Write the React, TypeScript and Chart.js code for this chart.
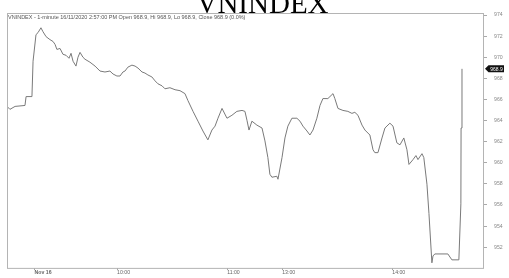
import React, { useEffect, useRef } from "react";
import { Chart, registerables } from "chart.js";

Chart.register(...registerables);

// Minutes since 9:00 (lunch break removed; 13:00 = 150)
const minutes = [
  0, 1.6, 4.4, 9.8, 10.4, 13.6, 14.2, 15.8, 16.9, 18.5, 19.6, 21.3, 23.4, 25.1, 26.2, 27.2, 28.9, 30.5, 32.2, 33.8,
  34.9, 36.0, 37.6, 38.7, 39.8, 41.4, 42.5, 45.2, 48.0, 50.7, 53.4, 56.1, 57.8, 59.9, 61.6, 63.2, 64.3, 65.9, 68.1, 69.8,
  71.4, 73.6, 75.2, 76.8, 79.0, 80.7, 82.3, 84.5, 86.1, 88.8, 91.6, 94.3, 97.0, 98.6, 101.4, 104.1, 106.8, 109.5, 111.7, 113.4,
  115.0, 117.2, 117.7, 119.9, 122.6, 125.3, 128.1, 129.7, 130.8, 131.9, 133.5, 136.2, 139.0, 140.6, 142.2, 143.3, 144.4, 147.1, 147.7, 149.9,
  151.5, 153.1, 155.3, 158.0, 159.7, 161.3, 163.5, 165.1, 166.8, 168.9, 170.6, 172.2, 174.9, 177.7, 178.7, 180.4, 183.1, 185.8, 188.0, 189.6,
  191.3, 193.5, 195.1, 197.8, 199.5, 200.5, 202.2, 204.4, 206.0, 208.7, 210.4, 212.5, 214.2, 216.3, 218.0, 219.1, 221.3, 222.9, 224.0, 226.2,
  227.2, 228.9, 230.0, 231.6, 232.2, 233.2, 240.3, 242.5, 246.3, 247.4, 247.5, 248.0,
];

const prices = [
  965.34, 965.06, 965.34, 965.43, 966.27, 966.27, 969.62, 972.14, 972.33, 972.79, 972.42, 971.95, 971.67, 971.49, 971.21, 970.74, 970.83, 970.28, 970.18, 969.9,
  970.37, 969.62, 969.16, 970.0, 970.46, 970.0, 969.81, 969.53, 969.16, 968.69, 968.6, 968.69, 968.41, 968.22, 968.22, 968.6, 968.69, 969.06, 969.25, 969.16,
  968.97, 968.6, 968.5, 968.32, 968.13, 967.76, 967.48, 967.29, 967.01, 967.11, 966.92, 966.83, 966.55, 965.9, 964.87, 963.94, 963.01, 962.17, 963.1, 963.47,
  964.22, 965.15, 965.15, 964.22, 964.5, 964.87, 964.96, 964.87, 964.03, 963.1, 963.94, 963.57, 963.29, 962.07, 960.49, 958.91, 958.63, 958.72, 958.44, 960.49,
  962.35, 963.47, 964.22, 964.22, 963.94, 963.47, 963.01, 962.63, 963.1, 964.22, 965.43, 966.08, 966.08, 966.55, 966.08, 965.15, 964.96, 964.87, 964.68, 964.78,
  964.5, 963.57, 963.1, 962.63, 961.23, 960.96, 960.96, 962.35, 963.29, 963.75, 963.47, 961.89, 961.7, 962.35, 961.23, 959.84, 960.3, 960.68, 960.3, 960.86,
  960.49, 957.97, 955.18, 950.52, 951.17, 951.36, 951.36, 950.8, 950.8, 956.11, 963.29, 968.9,
];

const yTickValues = [952, 954, 956, 958, 960, 962, 964, 966, 968, 970, 972, 974];
const xTickPositions = [15, 60, 120, 150, 210];
const xTickLabels = ["Nov 16", "10:00", "11:00", "13:00", "14:00"];

const titleText = "VNINDEX";
const headerText =
  "VNINDEX - 1-minute 16/11/2020 2:57:00 PM Open 968.9, Hi 968.9, Lo 968.9, Close 968.9 (0.0%)";
const lastValue = 968.9;
const lastValueLabel = "968.9";

const decoPlugin = {
  id: "deco",
  beforeDraw(chart: any) {
    const { ctx, width, height } = chart;
    ctx.save();
    ctx.fillStyle = "#ffffff";
    ctx.fillRect(0, 0, width, height);
    ctx.restore();
  },
  afterDraw(chart: any) {
    const { ctx, chartArea: a } = chart;
    ctx.save();
    // plot frame
    ctx.strokeStyle = "#b4b4b4";
    ctx.lineWidth = 1;
    ctx.strokeRect(a.left + 0.5, a.top + 0.5, a.right - a.left - 1, a.bottom - a.top);
    // header text
    ctx.fillStyle = "#555555";
    ctx.font = '5.5px "Liberation Sans", Arial, sans-serif';
    ctx.textAlign = "left";
    ctx.textBaseline = "top";
    ctx.fillText(headerText, a.left + 1, a.top + 2);
    // title
    ctx.fillStyle = "#000000";
    ctx.font = '29px "Liberation Serif", "Times New Roman", serif';
    ctx.textAlign = "center";
    ctx.textBaseline = "alphabetic";
    ctx.fillText(titleText, 262.5, a.top);
    // last value tag
    const y = chart.scales.y.getPixelForValue(lastValue);
    const x0 = a.right + 1;
    ctx.fillStyle = "#111111";
    ctx.beginPath();
    ctx.moveTo(x0, y);
    ctx.lineTo(x0 + 3.5, y - 3.5);
    ctx.lineTo(x0 + 19, y - 3.5);
    ctx.lineTo(x0 + 19, y + 3.5);
    ctx.lineTo(x0 + 3.5, y + 3.5);
    ctx.closePath();
    ctx.fill();
    ctx.fillStyle = "#ffffff";
    ctx.font = '5px "Liberation Sans", Arial, sans-serif';
    ctx.textAlign = "center";
    ctx.textBaseline = "middle";
    ctx.fillText(lastValueLabel, x0 + 11.5, y + 0.5);
    ctx.restore();
  },
};

export default function App() {
  const canvasRef = useRef<HTMLCanvasElement | null>(null);

  useEffect(() => {
    const canvas = canvasRef.current;
    if (!canvas) return;
    const data = minutes.map((m, i) => ({ x: m, y: prices[i] }));
    const chart = new Chart(canvas, {
      type: "line",
      data: {
        datasets: [
          {
            data,
            borderColor: "#7a7a7a",
            borderWidth: 1,
            pointRadius: 0,
            tension: 0,
            fill: false,
          },
        ],
      },
      options: {
        animation: false,
        responsive: false,
        devicePixelRatio: 1,
        layout: { padding: { left: 7, top: 13, right: 0, bottom: 0 } },
        plugins: {
          legend: { display: false },
          title: { display: false },
          tooltip: { enabled: false },
        },
        scales: {
          x: {
            type: "linear",
            min: 0,
            max: 260,
            border: { display: false },
            grid: { drawOnChartArea: false, drawTicks: true, tickLength: 2, color: "#999999" },
            afterBuildTicks: (scale: any) => {
              scale.ticks = xTickPositions.map((v) => ({ value: v }));
            },
            afterFit: (scale: any) => {
              scale.height = 6;
            },
            ticks: {
              autoSkip: false,
              maxRotation: 0,
              align: "start",
              padding: 0,
              color: "#666666",
              font: (ctx: any) => ({
                family: '"Liberation Sans", Arial, sans-serif',
                size: 5.2,
                weight: ctx.index === 0 ? "bold" : "normal",
              }),
              callback: (_v: any, i: number) => xTickLabels[i],
            },
          },
          y: {
            type: "linear",
            position: "right",
            min: 950.04,
            max: 974.19,
            border: { display: false },
            grid: { drawOnChartArea: false, drawTicks: true, tickLength: 3, color: "#aaaaaa" },
            afterBuildTicks: (scale: any) => {
              scale.ticks = yTickValues.map((v) => ({ value: v }));
            },
            afterFit: (scale: any) => {
              scale.width = 25;
            },
            ticks: {
              padding: 7,
              color: "#888888",
              font: { family: '"Liberation Sans", Arial, sans-serif', size: 5.2 },
              callback: (v: any) => String(v),
            },
          },
        },
      },
      plugins: [decoPlugin],
    });
    return () => chart.destroy();
  }, []);

  return (
    <div style={{ position: "fixed", left: 0, top: 0, width: 509, height: 278, background: "#fff" }}>
      <canvas ref={canvasRef} width={509} height={278} style={{ display: "block", width: 509, height: 278 }} />
    </div>
  );
}
